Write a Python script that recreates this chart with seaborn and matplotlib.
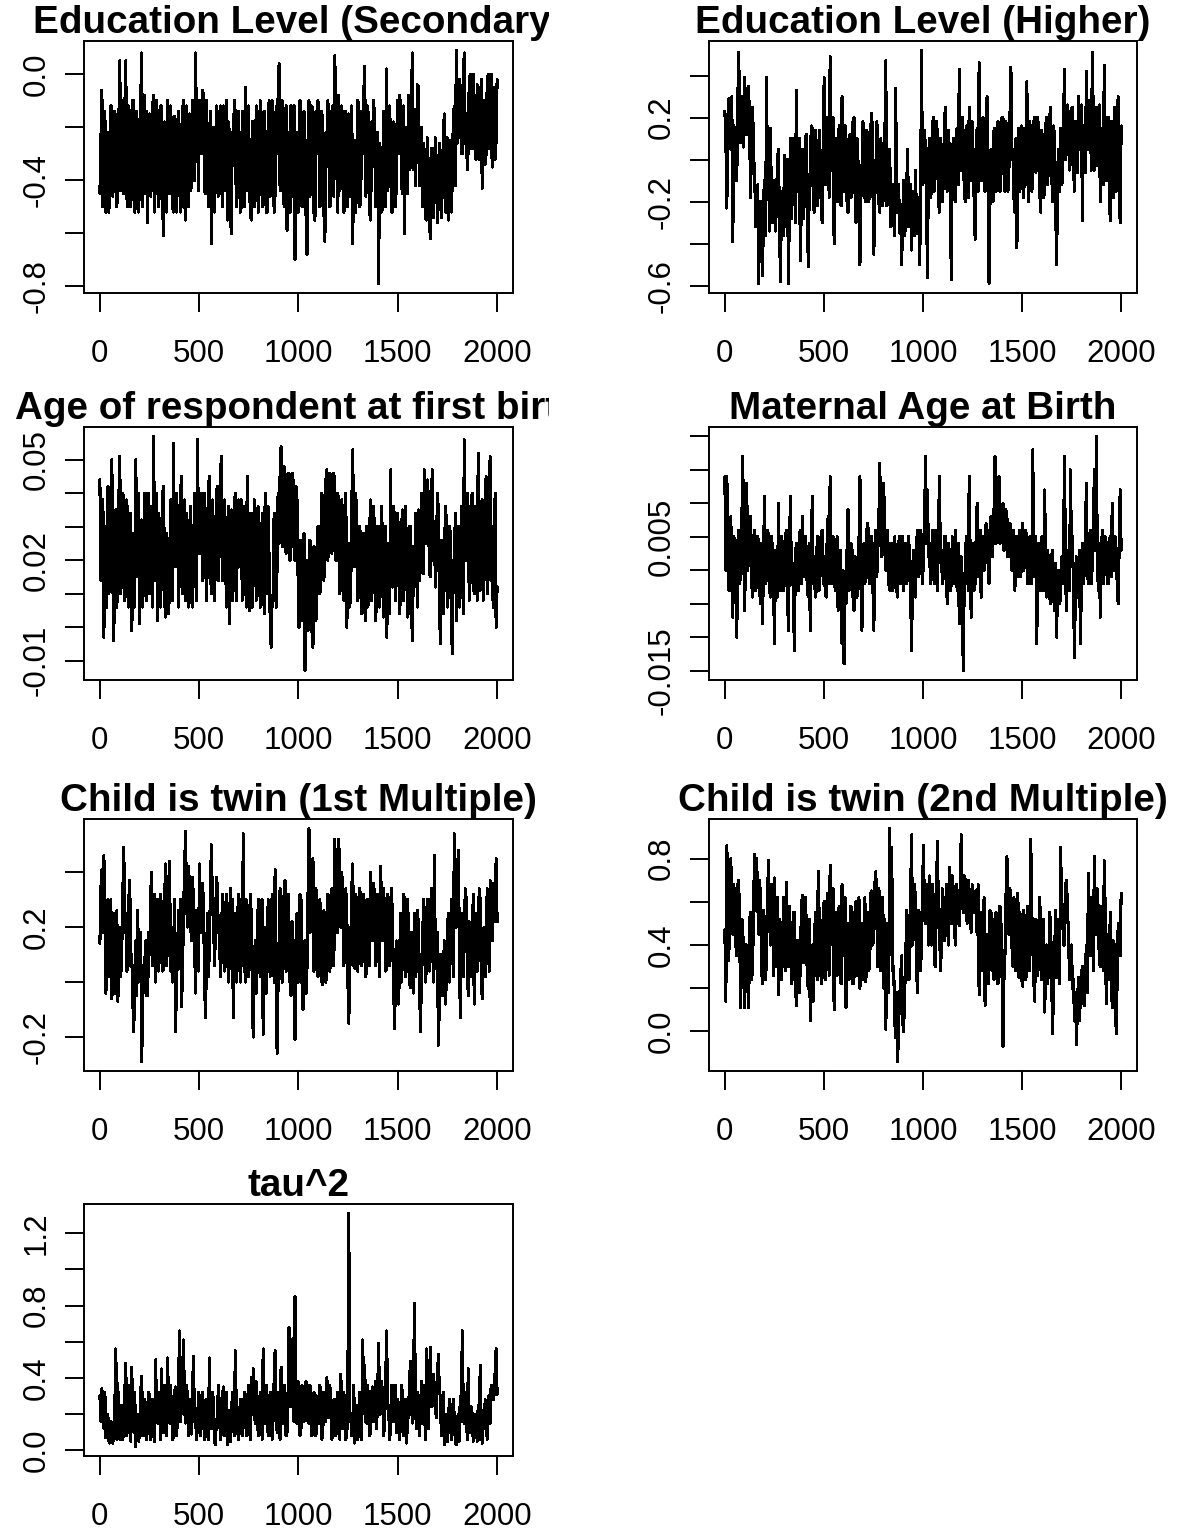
import numpy as np
import matplotlib
matplotlib.use("Agg")
import matplotlib.pyplot as plt
import matplotlib.transforms as mtransforms
import seaborn as sns

# trace values, one value every ~5 iterations (each line = 100 iterations)
edu_secondary = [
    -0.45, -0.26, -0.06, -0.50, -0.38, -0.14, -0.52, -0.22, -0.22, -0.52, -0.40, -0.12, -0.12, -0.46, -0.35, -0.14, -0.20, -0.50, -0.42, -0.18,
    0.05, -0.44, -0.30, -0.10, -0.45, -0.14, 0.05, -0.46, -0.50, -0.12, -0.18, -0.50, -0.38, -0.10, -0.10, -0.52, -0.48, -0.14, -0.25, -0.52,
    -0.35, -0.10, 0.08, -0.50, -0.30, -0.08, -0.45, -0.14, -0.56, -0.18, -0.15, -0.46, -0.40, -0.12, -0.08, -0.52, -0.32, -0.10, -0.20, -0.50,
    -0.42, -0.12, -0.12, -0.50, -0.61, -0.18, -0.28, -0.52, -0.10, -0.44, -0.45, -0.12, -0.22, -0.50, -0.52, -0.16, -0.18, -0.52, -0.38, -0.14,
    -0.25, -0.52, -0.48, -0.14, -0.10, -0.46, -0.55, -0.12, -0.30, -0.50, -0.15, -0.44, -0.42, -0.10, -0.20, -0.40, 0.08, -0.18, -0.18, -0.44,
    -0.10, -0.26, -0.30, -0.06, -0.08, -0.44, -0.45, -0.10, -0.25, -0.50, -0.50, -0.14, -0.64, -0.26, -0.20, -0.52, -0.40, -0.12, -0.15, -0.46,
    -0.45, -0.12, -0.25, -0.50, -0.12, -0.44, -0.38, -0.10, -0.55, -0.18, -0.22, -0.52, -0.60, -0.22, -0.30, -0.10, -0.15, -0.50, -0.42, -0.14,
    -0.28, -0.52, -0.50, -0.14, -0.20, -0.50, -0.05, -0.44, -0.40, -0.12, -0.32, -0.52, -0.55, -0.18, -0.18, -0.50, -0.45, -0.12, -0.25, -0.52,
    -0.38, -0.10, -0.15, -0.50, -0.48, -0.14, -0.28, -0.52, -0.52, -0.18, -0.10, -0.46, -0.35, -0.10, -0.22, -0.52, -0.45, -0.12, -0.30, -0.08,
    0.04, -0.44, -0.40, -0.10, -0.20, -0.50, -0.45, -0.12, -0.59, -0.22, -0.25, -0.52, -0.12, -0.46, -0.38, -0.12, -0.70, -0.26, -0.22, -0.52,
    -0.35, -0.10, -0.15, -0.50, -0.50, -0.14, -0.28, -0.52, -0.68, -0.26, -0.10, -0.46, -0.40, -0.12, -0.25, -0.52, -0.55, -0.14, -0.30, -0.10,
    -0.18, -0.50, -0.45, -0.14, -0.30, -0.52, -0.63, -0.22, -0.35, -0.10, -0.20, -0.50, -0.48, -0.14, -0.12, -0.46, 0.07, -0.26, -0.28, -0.52,
    -0.08, -0.44, -0.40, -0.12, -0.22, -0.52, -0.50, -0.14, -0.30, -0.50, -0.15, -0.46, -0.45, -0.12, -0.64, -0.26, -0.25, -0.52, -0.38, -0.10,
    -0.12, -0.50, -0.48, -0.14, -0.30, -0.08, 0.03, -0.46, -0.42, -0.12, -0.20, -0.52, -0.55, -0.18, -0.35, -0.10, -0.18, -0.50, -0.45, -0.22,
    -0.79, -0.26, -0.30, -0.52, -0.50, -0.14, -0.15, -0.50, 0.02, -0.44, -0.40, -0.12, -0.25, -0.52, -0.52, -0.18, -0.20, -0.50, -0.38, -0.10,
    -0.30, -0.08, -0.12, -0.42, -0.45, -0.12, -0.60, -0.20, -0.22, -0.45, -0.08, -0.36, -0.35, -0.06, 0.08, -0.36, -0.15, -0.42, -0.25, -0.04,
    -0.05, -0.42, -0.40, -0.20, -0.50, -0.26, -0.30, -0.54, -0.55, -0.24, -0.38, -0.56, -0.62, -0.28, -0.28, -0.54, -0.45, -0.24, -0.35, -0.56,
    -0.48, -0.26, -0.30, -0.54, -0.42, -0.22, -0.15, -0.52, -0.52, -0.24, -0.55, -0.30, -0.25, -0.52, -0.40, -0.16, -0.12, -0.42, 0.09, -0.26,
    -0.22, -0.02, -0.05, -0.30, -0.30, -0.02, 0.08, -0.26, -0.15, -0.36, -0.28, -0.02, 0.00, -0.28, -0.20, 0.00, -0.10, -0.32, -0.32, -0.04,
    -0.05, -0.32, -0.25, -0.02, -0.43, -0.10, -0.10, -0.34, -0.30, -0.04, 0.00, -0.28, -0.20, 0.00, -0.35, -0.08, -0.05, -0.32, -0.25, -0.02,
]
edu_higher = [
    0.23, 0.10, -0.23, 0.20, 0.29, 0.06, 0.05, 0.30, -0.39, 0.16, 0.15, -0.06, -0.10, 0.28, 0.51, 0.10, 0.08, 0.30, 0.30, 0.06,
    0.39, 0.14, 0.12, 0.34, 0.35, 0.10, -0.18, 0.20, 0.25, 0.00, -0.05, -0.32, -0.30, -0.12, -0.59, -0.22, -0.20, -0.44, -0.55, -0.18,
    -0.10, -0.36, 0.39, -0.18, -0.05, -0.34, 0.15, -0.28, -0.30, -0.12, -0.10, -0.34, -0.20, 0.00, 0.05, -0.32, -0.58, -0.18, -0.15, -0.36,
    0.02, -0.32, -0.25, 0.00, -0.59, -0.22, 0.10, -0.28, -0.15, 0.10, -0.05, -0.30, 0.33, -0.15, -0.10, 0.10, -0.48, -0.22, 0.05, -0.28,
    -0.20, 0.10, 0.12, -0.22, -0.51, -0.12, -0.05, 0.16, 0.15, -0.20, -0.25, 0.14, 0.08, -0.22, -0.15, 0.14, 0.02, -0.22, -0.30, 0.10,
    0.39, -0.12, -0.10, 0.20, 0.15, -0.18, 0.49, 0.00, -0.05, 0.20, -0.40, -0.12, 0.10, -0.20, -0.20, 0.16, 0.05, -0.22, 0.30, -0.06,
    -0.15, 0.16, 0.08, -0.20, -0.25, 0.10, 0.12, -0.18, -0.10, 0.18, 0.20, -0.15, -0.30, 0.10, 0.00, -0.22, -0.50, -0.18, -0.05, 0.18,
    0.15, -0.18, -0.20, 0.14, 0.05, -0.20, -0.10, 0.16, 0.22, -0.12, -0.45, -0.18, -0.05, 0.18, 0.10, -0.20, -0.25, 0.10, 0.00, -0.22,
    -0.10, 0.06, 0.47, -0.22, -0.20, 0.00, 0.05, -0.32, -0.30, -0.12, -0.15, -0.36, 0.34, -0.25, -0.25, -0.12, -0.35, -0.22, -0.50, -0.28,
    -0.10, -0.36, -0.30, -0.15, 0.05, -0.32, -0.20, -0.12, -0.43, -0.22, -0.15, -0.36, -0.05, -0.32, -0.35, -0.18, -0.50, -0.28, 0.52, -0.12,
    -0.10, 0.14, 0.05, -0.20, -0.56, 0.00, 0.10, -0.18, -0.15, 0.16, 0.20, -0.15, -0.05, 0.18, 0.12, -0.18, -0.25, 0.10, 0.05, -0.20,
    -0.10, 0.16, 0.25, -0.12, -0.15, 0.14, 0.05, -0.20, -0.57, 0.00, 0.10, -0.18, -0.20, 0.14, 0.15, -0.12, 0.43, 0.10, -0.05, 0.20,
    0.12, -0.15, -0.20, 0.16, 0.05, -0.18, 0.25, 0.00, -0.10, 0.18, 0.00, -0.20, -0.38, 0.10, 0.15, -0.15, 0.46, 0.06, -0.10, 0.18,
    0.20, -0.12, -0.15, 0.16, 0.30, -0.06, -0.59, -0.18, 0.05, -0.20, -0.20, 0.14, 0.15, -0.15, -0.10, 0.18, 0.10, -0.15, -0.05, 0.20,
    0.20, -0.06, -0.15, 0.18, 0.10, -0.15, -0.05, 0.20, 0.44, 0.00, 0.05, -0.18, -0.25, 0.10, -0.42, -0.12, 0.15, -0.15, -0.10, 0.16,
    0.05, -0.18, 0.15, -0.12, 0.37, 0.06, -0.20, 0.18, 0.10, -0.15, -0.10, 0.18, 0.20, -0.06, -0.05, 0.20, 0.12, -0.15, -0.25, 0.14,
    0.08, -0.18, -0.15, 0.16, 0.20, -0.12, 0.00, 0.20, 0.25, -0.06, -0.20, 0.16, 0.10, -0.20, -0.50, -0.12, 0.05, -0.15, 0.15, -0.12,
    -0.10, 0.20, 0.43, 0.00, 0.05, 0.26, 0.20, -0.05, 0.00, 0.24, 0.25, -0.03, -0.15, 0.18, 0.10, -0.06, 0.30, 0.14, 0.05, 0.26,
    -0.29, 0.16, 0.15, -0.06, 0.42, 0.14, 0.05, 0.28, 0.20, -0.05, 0.51, 0.18, -0.05, 0.24, 0.25, -0.03, 0.10, 0.26, -0.20, 0.10,
    0.15, -0.12, 0.45, 0.10, -0.10, 0.20, 0.20, -0.12, -0.29, 0.18, 0.05, -0.18, 0.25, 0.00, -0.15, 0.20, 0.30, -0.12, -0.30, 0.16,
]
age_first_birth = [
    0.044, 0.014, 0.014, 0.038, -0.003, 0.028, 0.030, 0.006, 0.042, 0.010, 0.012, 0.040, 0.050, 0.014, -0.004, 0.034, 0.035, 0.006, 0.015, 0.038,
    0.051, 0.010, 0.020, 0.040, 0.038, 0.008, 0.012, 0.038, 0.030, 0.006, 0.009, 0.034, -0.001, 0.014, 0.028, 0.006, 0.050, 0.028, 0.015, 0.040,
    0.001, 0.028, 0.032, 0.006, 0.018, 0.040, 0.040, 0.008, 0.022, 0.040, 0.010, 0.036, 0.035, 0.006, 0.057, 0.014, 0.015, 0.040, 0.002, 0.034,
    0.030, 0.006, 0.020, 0.040, 0.042, 0.008, 0.003, 0.028, 0.025, 0.004, 0.012, 0.038, 0.038, 0.008, 0.055, 0.018, 0.018, 0.040, 0.032, 0.006,
    0.020, 0.040, 0.045, 0.010, 0.015, 0.038, 0.008, 0.034, 0.030, 0.006, 0.008, 0.036, 0.025, 0.006, 0.018, 0.040, 0.035, 0.008, 0.056, 0.028,
    0.022, 0.040, 0.040, 0.014, 0.015, 0.040, 0.032, 0.008, 0.020, 0.042, 0.045, 0.018, 0.010, 0.038, 0.030, 0.008, 0.018, 0.040, 0.042, 0.014,
    0.025, 0.044, 0.051, 0.014, 0.015, 0.038, 0.030, 0.006, 0.020, 0.036, 0.001, 0.028, 0.035, 0.008, 0.012, 0.036, 0.040, 0.008, 0.022, 0.038,
    0.018, 0.038, 0.038, 0.008, 0.010, 0.036, 0.028, 0.006, 0.045, 0.014, 0.005, 0.034, 0.025, 0.006, 0.015, 0.038, 0.035, 0.008, 0.012, 0.036,
    0.030, 0.006, 0.008, 0.034, 0.025, 0.004, 0.040, 0.010, 0.015, 0.036, 0.020, 0.003, -0.006, 0.008, 0.010, 0.034, 0.032, 0.006, 0.018, 0.040,
    0.025, 0.046, 0.054, 0.024, 0.030, 0.048, 0.045, 0.022, 0.035, 0.046, 0.040, 0.020, 0.028, 0.046, 0.044, 0.024, 0.020, 0.042, 0.038, 0.016,
    0.000, 0.026, 0.025, 0.002, 0.010, 0.028, -0.013, 0.006, 0.020, -0.001, 0.005, 0.026, 0.015, -0.001, -0.006, 0.024, 0.022, 0.002, 0.012, 0.030,
    0.030, 0.010, 0.018, 0.040, 0.035, 0.014, 0.025, 0.044, 0.047, 0.020, 0.030, 0.046, 0.045, 0.022, 0.028, 0.046, 0.040, 0.020, 0.020, 0.040,
    0.035, 0.010, 0.015, 0.038, 0.030, 0.008, 0.022, 0.040, 0.000, 0.014, 0.025, 0.006, 0.012, 0.036, 0.053, 0.018, 0.018, 0.040, 0.032, 0.008,
    0.010, 0.030, 0.025, 0.004, 0.005, 0.028, 0.020, 0.002, 0.030, 0.006, 0.008, 0.030, 0.038, 0.008, 0.015, 0.036, 0.025, 0.002, 0.010, 0.030,
    0.030, 0.006, 0.015, 0.036, 0.022, 0.003, 0.008, 0.030, -0.003, 0.008, 0.025, 0.004, 0.047, 0.014, 0.012, 0.036, 0.032, 0.008, 0.018, 0.034,
    0.028, 0.004, 0.010, 0.030, 0.035, 0.008, 0.015, 0.036, 0.022, 0.003, 0.005, 0.030, 0.030, 0.004, -0.004, 0.024, 0.012, 0.034, 0.025, 0.006,
    0.035, 0.014, 0.018, 0.040, 0.040, 0.016, 0.047, 0.036, 0.025, 0.044, 0.038, 0.016, 0.015, 0.040, 0.047, 0.020, 0.030, 0.012, 0.020, 0.040,
    0.035, 0.008, -0.005, 0.026, 0.025, 0.004, 0.015, 0.036, 0.032, 0.006, 0.010, 0.030, 0.028, 0.002, -0.008, 0.020, 0.018, 0.034, 0.002, 0.026,
    0.030, 0.006, 0.012, 0.036, 0.025, 0.004, 0.056, 0.028, 0.020, 0.040, 0.035, 0.008, 0.015, 0.038, 0.040, 0.014, 0.010, 0.036, 0.030, 0.008,
    0.052, 0.014, 0.011, 0.036, 0.038, 0.008, 0.025, 0.040, 0.045, 0.010, 0.015, 0.038, 0.051, 0.014, 0.030, 0.006, 0.020, 0.040, 0.000, 0.012,
]
maternal_age = [
    0.014, 0.000, 0.014, 0.006, -0.003, 0.007, 0.008, -0.002, -0.007, 0.005, 0.004, -0.003, -0.010, 0.004, 0.006, -0.002, 0.000, 0.006, 0.017, 0.002,
    -0.006, 0.006, 0.013, 0.000, 0.002, 0.007, 0.008, -0.002, -0.004, 0.005, 0.006, -0.003, -0.002, 0.005, 0.004, -0.003, -0.005, 0.004, -0.008, 0.003,
    0.011, -0.002, -0.001, 0.006, 0.005, -0.003, -0.004, 0.005, 0.003, -0.002, -0.011, 0.003, 0.002, -0.004, 0.010, 0.000, -0.003, 0.005, 0.004, -0.003,
    -0.002, 0.005, 0.006, -0.003, -0.009, 0.003, 0.011, -0.001, 0.001, -0.004, -0.012, 0.002, 0.004, -0.003, -0.003, 0.005, 0.006, -0.002, 0.008, -0.001,
    -0.001, 0.005, 0.003, -0.003, -0.004, 0.004, -0.009, 0.002, 0.011, -0.002, 0.002, -0.004, -0.003, 0.005, 0.005, -0.003, 0.000, 0.005, 0.006, -0.002,
    0.002, -0.003, -0.004, 0.005, 0.008, -0.002, 0.014, 0.002, -0.002, 0.005, 0.004, -0.003, 0.000, 0.005, -0.006, 0.002, 0.003, -0.004, -0.011, 0.000,
    -0.014, -0.004, -0.005, 0.003, 0.009, -0.003, -0.002, 0.004, 0.003, -0.004, -0.006, 0.002, 0.001, -0.004, -0.003, 0.004, 0.014, -0.001, -0.009, 0.002,
    0.004, -0.002, 0.001, 0.006, 0.007, -0.001, -0.002, 0.005, 0.005, -0.002, -0.009, 0.003, 0.006, -0.001, 0.003, 0.007, 0.016, 0.004, 0.002, 0.008,
    0.013, 0.003, 0.000, 0.006, 0.006, -0.002, -0.003, 0.004, 0.004, -0.003, -0.002, 0.005, 0.001, -0.003, -0.004, 0.004, 0.005, -0.002, 0.000, 0.005,
    -0.003, 0.004, 0.004, -0.002, -0.001, 0.005, 0.002, -0.003, -0.012, 0.000, 0.003, -0.003, -0.004, 0.004, 0.006, -0.001, 0.000, 0.006, 0.005, -0.002,
    0.002, 0.006, 0.017, 0.004, 0.012, 0.002, 0.004, -0.002, -0.001, 0.006, 0.006, -0.002, 0.002, 0.006, -0.003, 0.004, 0.014, 0.002, 0.003, -0.002,
    -0.001, 0.005, 0.005, -0.002, -0.005, 0.004, 0.002, -0.003, -0.002, 0.005, 0.004, -0.002, 0.006, -0.001, -0.003, 0.004, -0.008, 0.000, 0.002, -0.003,
    -0.015, -0.002, 0.000, 0.005, 0.003, -0.003, 0.014, 0.002, -0.007, 0.003, 0.004, -0.003, -0.002, 0.005, 0.010, -0.001, 0.001, 0.006, -0.004, 0.003,
    0.005, 0.000, 0.002, 0.007, 0.006, 0.001, -0.002, 0.006, 0.008, 0.002, 0.004, 0.009, 0.017, 0.004, 0.007, 0.010, 0.014, 0.004, 0.005, 0.009,
    0.010, 0.003, 0.004, 0.009, 0.008, 0.002, 0.002, 0.007, 0.006, 0.000, 0.000, 0.006, -0.003, 0.004, 0.005, -0.001, 0.003, 0.006, -0.001, 0.004,
    0.007, 0.000, 0.002, 0.006, 0.004, -0.002, -0.002, 0.005, 0.003, -0.002, 0.018, 0.002, -0.001, 0.005, -0.011, 0.000, 0.004, -0.002, -0.003, 0.005,
    0.002, -0.003, 0.012, 0.000, -0.004, 0.003, 0.001, -0.004, -0.005, 0.002, 0.003, -0.004, -0.006, 0.001, -0.010, -0.002, 0.000, -0.005, -0.004, 0.002,
    -0.002, 0.004, 0.017, -0.001, -0.006, 0.002, 0.003, -0.003, 0.015, 0.002, 0.005, -0.003, -0.013, -0.002, 0.002, -0.004, -0.004, 0.003, -0.011, -0.002,
    0.004, -0.002, 0.000, 0.005, 0.013, 0.000, -0.002, 0.005, 0.006, -0.002, 0.001, 0.006, 0.015, 0.003, 0.020, 0.002, -0.003, 0.004, -0.007, 0.002,
    0.006, -0.002, 0.001, 0.005, 0.004, -0.002, -0.002, 0.004, 0.005, -0.001, 0.010, 0.002, 0.000, 0.005, 0.003, -0.002, -0.005, 0.004, 0.012, 0.003,
]
twin_first = [
    0.14, 0.34, 0.41, 0.18, 0.46, 0.26, -0.04, 0.06, 0.30, 0.02, 0.10, 0.30, -0.06, 0.04, 0.25, -0.04, 0.08, 0.26, -0.07, 0.04,
    0.20, 0.02, 0.12, 0.32, 0.49, 0.18, 0.25, 0.04, 0.05, 0.30, 0.37, 0.06, 0.10, -0.06, -0.18, 0.00, 0.15, -0.05, 0.26, 0.00,
    0.02, 0.18, -0.29, -0.08, 0.06, 0.06, 0.15, -0.05, -0.05, 0.18, 0.10, 0.32, 0.40, 0.06, 0.20, 0.32, 0.00, 0.22, 0.30, 0.04,
    0.12, 0.32, 0.25, 0.04, 0.05, 0.30, 0.43, 0.06, 0.15, 0.34, 0.44, 0.04, 0.20, 0.00, 0.08, 0.30, -0.18, 0.00, 0.10, 0.26,
    0.05, 0.30, -0.09, 0.04, 0.25, 0.40, 0.55, 0.30, 0.20, 0.42, 0.35, 0.22, 0.15, 0.38, 0.30, 0.18, -0.04, 0.26, 0.25, 0.04,
    0.43, 0.18, 0.18, 0.36, 0.30, 0.04, -0.13, 0.06, 0.25, 0.02, 0.12, 0.34, 0.50, 0.30, 0.30, 0.06, 0.16, 0.38, 0.35, 0.18,
    0.22, 0.02, 0.10, 0.32, 0.28, 0.04, 0.08, 0.32, 0.20, 0.00, 0.15, 0.34, 0.05, 0.30, -0.13, 0.06, 0.25, 0.00, 0.12, 0.32,
    0.18, 0.00, 0.30, 0.06, 0.54, 0.18, 0.00, 0.30, 0.20, 0.02, 0.10, 0.32, 0.25, 0.00, -0.20, 0.04, 0.15, -0.04, 0.05, 0.30,
    0.30, 0.02, 0.10, 0.30, -0.19, 0.02, 0.20, -0.04, 0.05, 0.30, 0.25, 0.02, 0.12, 0.32, 0.30, 0.00, 0.41, 0.04, -0.26, 0.00,
    0.15, 0.34, 0.25, 0.00, 0.05, 0.32, 0.37, 0.04, 0.10, 0.32, 0.20, 0.00, -0.05, 0.22, 0.15, -0.04, -0.21, 0.04, 0.25, 0.00,
    0.10, 0.32, 0.30, 0.00, -0.10, 0.06, 0.15, -0.04, 0.05, 0.30, 0.56, 0.18, 0.20, 0.36, 0.45, 0.04, 0.10, 0.34, 0.25, 0.02,
    0.05, 0.30, 0.15, 0.00, -0.01, 0.26, 0.20, 0.00, 0.08, 0.32, 0.30, 0.04, 0.12, 0.34, 0.25, 0.06, 0.52, 0.26, 0.35, 0.18,
    0.52, 0.30, 0.20, 0.40, 0.30, 0.06, 0.10, 0.34, 0.25, 0.02, -0.15, 0.04, 0.15, 0.34, 0.43, 0.06, 0.05, 0.32, 0.28, 0.04,
    0.15, 0.34, 0.30, 0.06, 0.10, 0.32, 0.25, 0.02, 0.05, 0.30, 0.20, 0.06, 0.40, 0.22, 0.15, 0.36, 0.30, 0.06, 0.10, 0.32,
    0.20, 0.02, 0.42, 0.26, 0.15, 0.34, 0.25, 0.04, 0.05, 0.32, 0.30, 0.06, 0.10, 0.34, 0.20, 0.00, -0.17, 0.04, 0.15, -0.04,
    -0.08, 0.06, 0.25, 0.00, 0.10, 0.32, 0.30, 0.02, 0.05, 0.30, 0.20, 0.00, -0.02, 0.18, 0.15, -0.04, 0.25, 0.02, 0.05, 0.26,
    0.20, 0.00, -0.18, 0.02, 0.10, 0.30, 0.25, 0.00, 0.05, 0.30, 0.30, 0.04, 0.15, 0.34, 0.20, 0.00, 0.46, 0.06, 0.05, 0.18,
    -0.23, -0.08, 0.10, -0.05, -0.05, 0.04, 0.15, -0.08, 0.00, 0.18, 0.25, 0.00, 0.10, 0.30, 0.30, 0.02, 0.54, 0.32, 0.20, 0.36,
    0.48, 0.18, -0.13, 0.22, 0.25, 0.02, 0.15, 0.34, 0.30, 0.06, -0.05, 0.22, 0.20, 0.02, 0.10, 0.32, -0.08, 0.18, 0.25, 0.04,
    0.15, 0.34, 0.30, 0.04, -0.06, 0.18, 0.20, 0.02, 0.10, 0.34, 0.25, 0.04, 0.37, 0.22, 0.15, 0.36, 0.30, 0.22, 0.45, 0.22,
]
twin_second = [
    0.47, 0.14, 0.86, 0.62, 0.33, 0.70, 0.80, 0.56, 0.45, 0.68, 0.60, 0.40, 0.35, 0.68, 0.70, 0.40, 0.11, 0.52, 0.50, 0.24,
    0.11, 0.40, 0.40, 0.22, 0.11, 0.52, 0.55, 0.24, 0.30, 0.62, 0.82, 0.56, 0.80, 0.62, 0.45, 0.70, 0.60, 0.28, 0.22, 0.56,
    0.50, 0.24, 0.35, 0.64, 0.79, 0.52, 0.40, 0.68, 0.55, 0.26, 0.71, 0.52, 0.30, 0.62, 0.17, 0.52, 0.50, 0.24, 0.35, 0.62,
    0.60, 0.28, 0.69, 0.40, 0.30, 0.58, 0.45, 0.22, 0.25, 0.55, 0.55, 0.24, 0.12, 0.42, 0.40, 0.18, 0.30, 0.56, 0.63, 0.32,
    0.35, 0.62, 0.50, 0.24, 0.20, 0.52, 0.05, 0.28, 0.40, 0.14, 0.30, 0.55, 0.55, 0.24, 0.74, 0.52, 0.45, 0.22, 0.25, 0.56,
    0.60, 0.24, 0.35, 0.64, 0.50, 0.26, 0.77, 0.56, 0.40, 0.66, 0.10, 0.40, 0.55, 0.26, 0.30, 0.58, 0.45, 0.22, 0.68, 0.42,
    0.35, 0.62, 0.11, 0.40, 0.50, 0.24, 0.30, 0.58, 0.45, 0.22, 0.25, 0.55, 0.60, 0.26, 0.35, 0.62, 0.20, 0.40, 0.50, 0.24,
    0.40, 0.62, 0.23, 0.52, 0.55, 0.28, 0.35, 0.64, 0.65, 0.40, 0.45, 0.68, 0.74, 0.52, 0.30, 0.66, 0.60, 0.28, 0.40, 0.62,
    0.20, 0.52, 0.01, 0.24, 0.50, 0.18, 0.94, 0.40, 0.85, 0.28, 0.30, 0.05, -0.03, 0.18, -0.14, 0.05, 0.15, 0.24, 0.35, 0.05,
    0.00, 0.18, 0.30, 0.56, 0.50, 0.24, 0.25, 0.62, 0.91, 0.40, 0.45, 0.68, 0.60, 0.28, 0.18, 0.56, 0.55, 0.28, 0.40, 0.66,
    0.86, 0.52, 0.50, 0.68, 0.65, 0.40, 0.72, 0.56, 0.40, 0.68, 0.60, 0.32, 0.30, 0.62, 0.88, 0.56, 0.55, 0.28, 0.38, 0.66,
    0.60, 0.42, 0.45, 0.68, 0.55, 0.40, 0.76, 0.56, 0.50, 0.72, 0.65, 0.52, 0.40, 0.68, 0.60, 0.52, 0.49, 0.70, 0.91, 0.62,
    0.55, 0.72, 0.70, 0.56, 0.50, 0.70, 0.65, 0.55, 0.46, 0.68, 0.60, 0.55, 0.65, 0.56, 0.45, 0.68, 0.17, 0.52, 0.55, 0.28,
    0.35, 0.62, 0.12, 0.40, 0.45, 0.22, 0.30, 0.56, 0.55, 0.28, 0.52, 0.24, 0.25, 0.55, 0.40, 0.22, 0.30, 0.58, 0.50, 0.28,
    -0.07, 0.24, 0.35, 0.62, 0.81, 0.52, 0.45, 0.66, 0.62, 0.40, 0.30, 0.62, 0.55, 0.28, 0.40, 0.64, 0.25, 0.55, 0.50, 0.24,
    0.21, 0.56, 0.45, 0.24, 0.30, 0.58, 0.55, 0.28, 0.89, 0.56, 0.40, 0.24, 0.14, 0.52, 0.50, 0.26, 0.35, 0.62, 0.45, 0.24,
    0.25, 0.52, 0.09, 0.28, 0.40, 0.22, 0.30, 0.55, 0.50, 0.24, -0.01, 0.24, 0.35, 0.56, 0.25, 0.52, 0.45, 0.22, 0.85, 0.62,
    0.55, 0.40, 0.40, 0.68, 0.70, 0.56, 0.45, 0.24, 0.30, 0.40, 0.20, 0.24, 0.05, 0.18, -0.06, 0.12, 0.25, 0.05, 0.15, 0.26,
    0.30, 0.14, 0.12, 0.28, 0.40, 0.18, 0.73, 0.52, 0.35, 0.62, 0.50, 0.28, 0.81, 0.56, 0.45, 0.66, 0.55, 0.32, 0.30, 0.58,
    0.50, 0.28, 0.79, 0.55, 0.13, 0.40, 0.45, 0.24, 0.55, 0.28, 0.11, 0.42, 0.40, 0.22, -0.01, 0.24, 0.50, 0.40, 0.35, 0.64,
]
tau_sq = [
    0.30, 0.16, 0.34, 0.24, 0.12, 0.32, 0.07, 0.16, 0.20, 0.05, 0.04, 0.16, 0.15, 0.04, 0.10, 0.24, 0.56, 0.06, 0.37, 0.08,
    0.06, 0.24, 0.25, 0.06, 0.12, 0.32, 0.48, 0.08, 0.15, 0.36, 0.28, 0.05, 0.46, 0.16, 0.10, 0.32, 0.02, 0.16, 0.20, 0.05,
    0.12, 0.32, 0.41, 0.08, 0.08, 0.28, 0.25, 0.06, 0.15, 0.32, 0.30, 0.06, 0.10, 0.28, 0.20, 0.05, 0.50, 0.16, 0.15, 0.32,
    0.25, 0.06, 0.45, 0.16, 0.10, 0.36, 0.30, 0.08, 0.51, 0.24, 0.15, 0.36, 0.22, 0.06, 0.08, 0.32, 0.35, 0.08, 0.18, 0.36,
    0.66, 0.16, 0.25, 0.42, 0.61, 0.24, 0.15, 0.36, 0.30, 0.08, 0.10, 0.28, 0.09, 0.32, 0.52, 0.16, 0.20, 0.06, 0.12, 0.32,
    0.30, 0.08, 0.15, 0.32, 0.25, 0.06, 0.08, 0.28, 0.20, 0.06, 0.51, 0.16, 0.12, 0.32, 0.28, 0.06, 0.03, 0.16, 0.18, 0.36,
    0.25, 0.06, 0.10, 0.28, 0.35, 0.08, 0.15, 0.32, 0.03, 0.16, 0.22, 0.05, 0.12, 0.32, 0.30, 0.08, 0.55, 0.24, 0.18, 0.06,
    0.10, 0.28, 0.25, 0.08, 0.15, 0.32, 0.30, 0.08, 0.12, 0.36, 0.20, 0.06, 0.40, 0.20, 0.45, 0.24, 0.15, 0.38, 0.28, 0.08,
    0.10, 0.32, 0.22, 0.06, 0.56, 0.24, 0.15, 0.36, 0.30, 0.08, 0.12, 0.32, 0.25, 0.06, 0.18, 0.38, 0.55, 0.24, 0.10, 0.32,
    0.20, 0.06, 0.46, 0.24, 0.15, 0.36, 0.30, 0.08, 0.10, 0.32, 0.68, 0.24, 0.25, 0.38, 0.62, 0.16, 0.85, 0.32, 0.15, 0.38,
    0.25, 0.08, 0.12, 0.36, 0.30, 0.16, 0.20, 0.38, 0.34, 0.16, 0.15, 0.36, 0.28, 0.08, 0.10, 0.32, 0.22, 0.08, 0.30, 0.20,
    0.15, 0.36, 0.25, 0.06, 0.12, 0.32, 0.30, 0.16, 0.40, 0.24, 0.18, 0.36, 0.25, 0.06, 0.10, 0.28, 0.28, 0.08, 0.15, 0.32,
    0.22, 0.06, 0.42, 0.20, 0.12, 0.32, 0.25, 0.06, 0.08, 0.28, 1.31, 0.16, 0.20, 0.08, 0.15, 0.36, 0.04, 0.24, 0.25, 0.06,
    0.12, 0.32, 0.30, 0.06, 0.61, 0.24, 0.47, 0.16, 0.15, 0.36, 0.25, 0.08, 0.10, 0.32, 0.35, 0.16, 0.20, 0.38, 0.12, 0.32,
    0.59, 0.20, 0.20, 0.38, 0.30, 0.08, 0.15, 0.36, 0.66, 0.24, 0.25, 0.06, 0.12, 0.36, 0.36, 0.16, 0.20, 0.36, 0.10, 0.28,
    0.25, 0.06, 0.15, 0.36, 0.30, 0.08, 0.08, 0.28, 0.04, 0.16, 0.20, 0.38, 0.49, 0.24, 0.15, 0.36, 0.81, 0.24, 0.12, 0.32,
    0.30, 0.08, 0.20, 0.38, 0.15, 0.36, 0.25, 0.06, 0.56, 0.28, 0.12, 0.38, 0.57, 0.24, 0.25, 0.42, 0.35, 0.24, 0.18, 0.40,
    0.53, 0.32, 0.30, 0.08, 0.15, 0.32, 0.03, 0.16, 0.20, 0.05, 0.12, 0.28, 0.25, 0.06, 0.10, 0.28, 0.18, 0.05, 0.03, 0.16,
    0.20, 0.05, 0.30, 0.16, 0.66, 0.24, 0.15, 0.32, 0.25, 0.06, 0.45, 0.16, 0.10, 0.24, 0.20, 0.05, 0.08, 0.20, 0.15, 0.05,
    0.25, 0.06, 0.47, 0.16, 0.04, 0.20, 0.12, 0.28, 0.20, 0.06, 0.30, 0.24, 0.15, 0.36, 0.35, 0.28, 0.31, 0.44, 0.56, 0.31,
]

titles = [
    "Education Level (Secondary)", "Education Level (Higher)",
    "Age of respondent at first birth", "Maternal Age at Birth",
    "Child is twin (1st Multiple)", "Child is twin (2nd Multiple)",
    "tau^2",
]
series = [edu_secondary, edu_higher, age_first_birth, maternal_age,
          twin_first, twin_second, tau_sq]

# y ticks per panel, label text ("" = tick without label, as R drops crowded labels)
y_ticks = [
    [-0.8, -0.6, -0.4, -0.2, 0.0],
    [-0.6, -0.4, -0.2, 0.0, 0.2, 0.4],
    [-0.01, 0.0, 0.01, 0.02, 0.03, 0.04, 0.05],
    [-0.015, -0.010, -0.005, 0.0, 0.005, 0.010, 0.015, 0.020],
    [-0.2, 0.0, 0.2, 0.4],
    [0.0, 0.2, 0.4, 0.6, 0.8],
    [0.0, 0.2, 0.4, 0.6, 0.8, 1.0, 1.2],
]
y_labels = [
    ["-0.8", "", "-0.4", "", "0.0"],
    ["-0.6", "", "-0.2", "", "0.2", ""],
    ["-0.01", "", "", "0.02", "", "", "0.05"],
    ["-0.015", "", "", "", "0.005", "", "", ""],
    ["-0.2", "", "0.2", ""],
    ["0.0", "", "0.4", "", "0.8"],
    ["0.0", "", "0.4", "", "0.8", "", "1.2"],
]
x_ticks = [0, 500, 1000, 1500, 2000]
n_iter = 2000

sns.set_style("ticks")
plt.rcParams["font.family"] = ["Liberation Sans", "DejaVu Sans"]
plt.rcParams["text.color"] = "black"

W, H = 1179, 1534
fig = plt.figure(figsize=(W / 100, H / 100), dpi=100)
fig.patch.set_facecolor("white")

# plot boxes in pixels (left, right) and (top, bottom)
cols = [(84, 513), (709, 1137)]
rows = [(41, 293), (427, 680), (819, 1071), (1204, 1456)]

for i, (vals, title) in enumerate(zip(series, titles)):
    r, c = divmod(i, 2)
    x0, x1 = cols[c]
    t, b = rows[r]
    ax = fig.add_axes([x0 / W, 1 - b / H, (x1 - x0) / W, (b - t) / H])
    vals = np.array(vals)
    iters = np.linspace(1, n_iter, len(vals))
    sns.lineplot(x=iters, y=vals, ax=ax, color="black", linewidth=1.5,
                 estimator=None, antialiased=False)

    # R style 4% padding
    span = n_iter - 1
    ax.set_xlim(1 - 0.04 * span, n_iter + 0.04 * span)
    lo, hi = vals.min(), vals.max()
    ax.set_ylim(lo - 0.04 * (hi - lo), hi + 0.04 * (hi - lo))

    ax.set_xticks(x_ticks, [str(v) for v in x_ticks])
    ax.set_yticks(y_ticks[i], y_labels[i], rotation=90, va="center")
    ax.tick_params(axis="both", direction="out", length=14, width=1.4,
                   labelsize=22.5, colors="black")
    ax.tick_params(axis="x", pad=19)
    ax.tick_params(axis="y", pad=9)
    for sp in ax.spines.values():
        sp.set_visible(True)
        sp.set_linewidth(1.4)
        sp.set_color("black")
    ax.set_xlabel("")
    ax.set_ylabel("")
    ax.grid(False)

    ttl = ax.set_title(title, fontsize=27.8, fontweight="bold", pad=2, color="black")
    if c == 0:
        # long titles get clipped at the edge of the left figure region, as in R
        clip = mtransforms.TransformedBbox(
            mtransforms.Bbox([[0, 0], [549 / W, 1]]), fig.transFigure)
        ttl.set_clip_box(clip)
        ttl.set_clip_on(True)

fig.savefig("out.png", dpi=100, facecolor="white")
